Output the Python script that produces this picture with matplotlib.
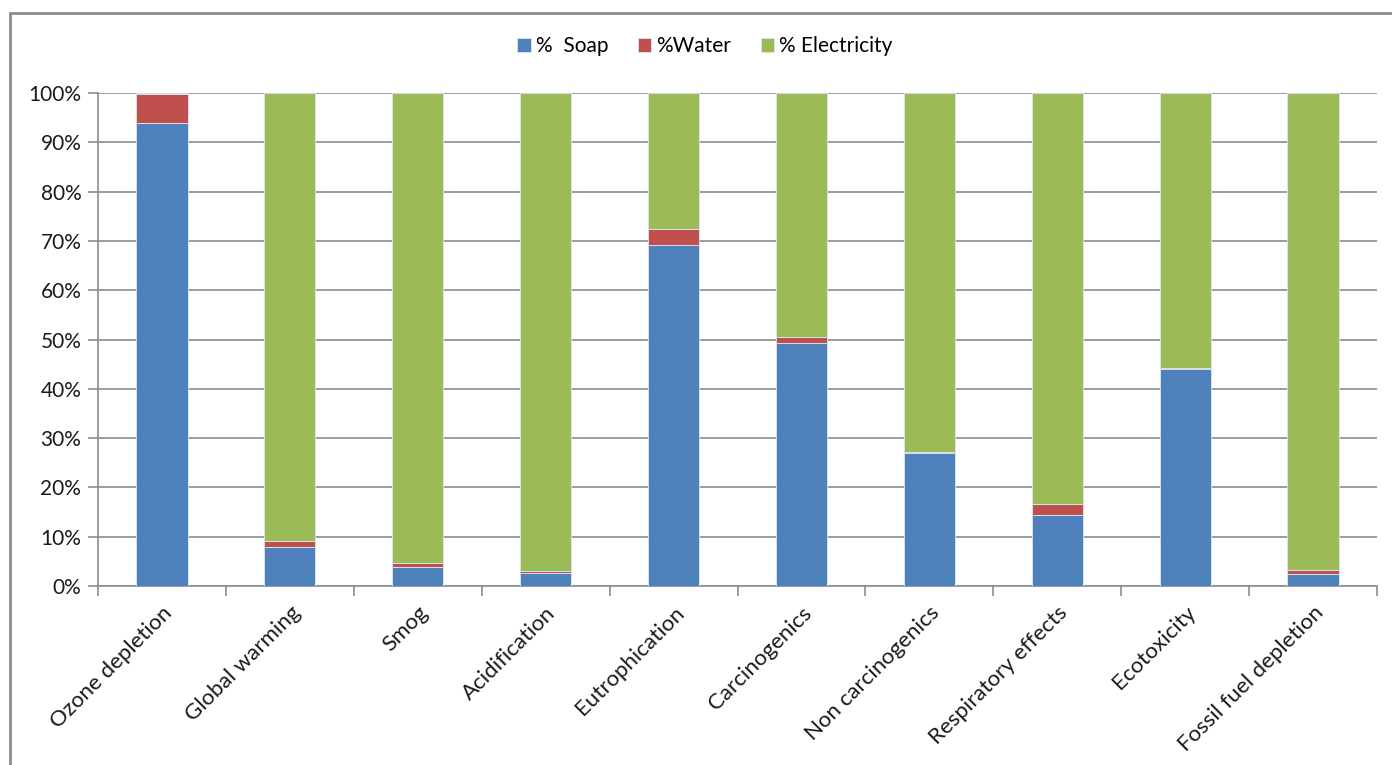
import matplotlib
matplotlib.use("Agg")
import matplotlib.pyplot as plt
from matplotlib.patches import Rectangle
from matplotlib.ticker import FixedLocator, PercentFormatter
import numpy as np

categories = ["Ozone depletion", "Global warming", "Smog", "Acidification",
              "Eutrophication", "Carcinogenics", "Non carcinogenics",
              "Respiratory effects", "Ecotoxicity", "Fossil fuel depletion"]
soap = [94.0, 8.0, 3.9, 2.6, 69.2, 49.2, 27.0, 14.5, 44.0, 2.5]
water = [5.7, 1.2, 0.7, 0.4, 3.2, 1.4, 0.2, 2.1, 0.2, 0.7]
electricity = [100 - s - w for s, w in zip(soap, water)]

series_names = ["%  Soap", "%Water", "% Electricity"]
colors = ["#4F81BD", "#C0504D", "#9BBB59"]

plt.rcParams["font.family"] = ["Lato", "DejaVu Sans"]

fig = plt.figure(figsize=(13.92, 7.65), dpi=100)
ax = fig.add_axes([98 / 1392, 1 - 586 / 765, (1377 - 98) / 1392, (586 - 93) / 765])

x = np.arange(len(categories))
bottom = np.zeros(len(categories))
for vals, name, col in zip([soap, water, electricity], series_names, colors):
    ax.bar(x, vals, width=0.4, bottom=bottom, color=col, label=name,
           edgecolor="#dce6f2", linewidth=0.6, zorder=3)
    bottom += np.array(vals)

ax.set_xlim(-0.5, len(categories) - 0.5)
ax.set_ylim(0, 100)
ax.yaxis.set_major_locator(FixedLocator(np.arange(0, 101, 10)))
ax.yaxis.set_major_formatter(PercentFormatter(decimals=0))
ax.grid(axis="y", color="#8c8c8c", linewidth=1.2, zorder=0)
ax.set_axisbelow(True)

ax.set_xticks(x)
ax.set_xticklabels(categories, rotation=45, ha="right", va="top",
                   rotation_mode="anchor", fontsize=16, color="#1a1a1a")
ax.tick_params(axis="x", length=0, pad=12)
ax.xaxis.set_minor_locator(FixedLocator(np.arange(-0.5, len(categories), 1.0)))
ax.tick_params(axis="x", which="minor", length=7, color="#8c8c8c", width=1.2)
ax.tick_params(axis="y", length=7, color="#8c8c8c", width=1.2,
               labelsize=15, labelcolor="#1a1a1a", pad=5)

for side in ["top", "right"]:
    ax.spines[side].set_visible(False)
for side in ["left", "bottom"]:
    ax.spines[side].set_color("#8c8c8c")
    ax.spines[side].set_linewidth(1.2)

leg = fig.legend(loc="center", bbox_to_anchor=(705 / 1392, 1 - 46 / 765), ncol=3,
                 frameon=False, fontsize=15, handlelength=0.65, handleheight=0.65,
                 handletextpad=0.25, columnspacing=1.4)

# chart frame
fig.patches.append(Rectangle((10 / 1392, -0.05), 1.1, 1 - 13 / 765 + 0.05,
                             transform=fig.transFigure, fill=False,
                             edgecolor="#8c8c8c", linewidth=2))

fig.savefig("out.png", dpi=100, facecolor="white")
